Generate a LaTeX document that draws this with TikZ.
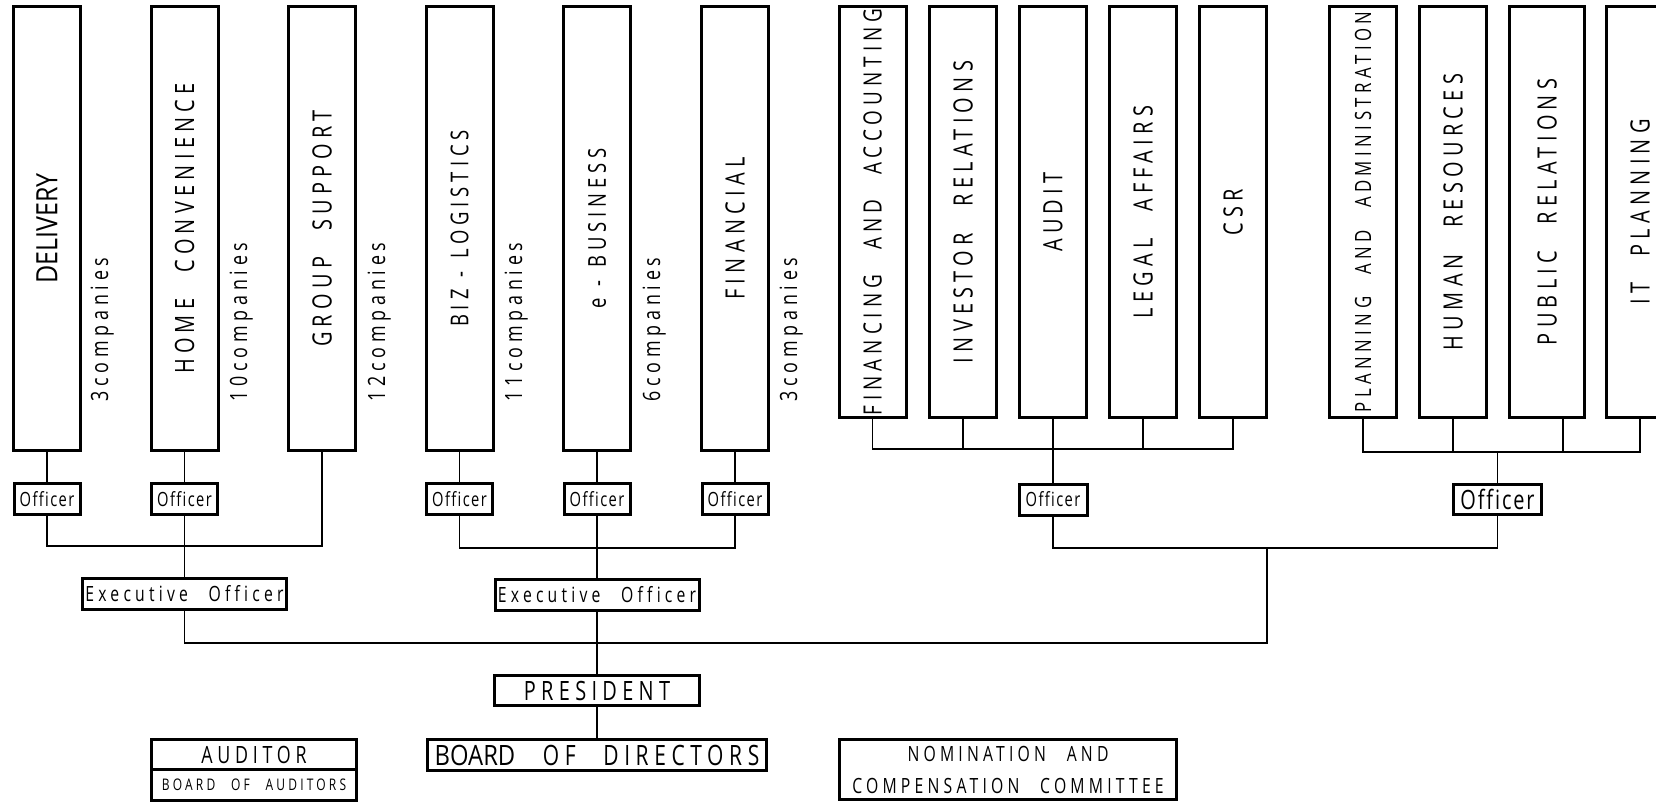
\documentclass[tikz,border=0pt]{standalone}
\usepackage{fontspec}
\newfontfamily\orgfont[FakeStretch=0.75,LetterSpace=20,WordSpace=2.5,Ligatures=NoCommon]{Open Sans}
\newfontfamily\offfont[FakeStretch=0.75,LetterSpace=7,Ligatures=NoCommon]{Open Sans}
\newfontfamily\tightfont[FakeStretch=0.85,Ligatures=NoCommon]{Open Sans}

\begin{document}
\begin{tikzpicture}[x=0.5pt, y=-0.5pt, line width=0.6pt,
    box/.style = {draw, line width=1.5pt, inner sep=0pt},
    dept/.style = {box, rotate=90, minimum width=222pt, minimum height=33.5pt, font=\orgfont\fontsize{13.3}{15}\selectfont},
    staff/.style = {box, rotate=90, minimum width=205.5pt, minimum height=33.5pt, font=\orgfont\fontsize{13.3}{15}\selectfont},
    cnt/.style = {rotate=90, anchor=base west, inner sep=0pt, font=\orgfont\fontsize{11.9}{14}\selectfont},
    off/.style = {box, minimum width=33pt, minimum height=15.5pt, font=\offfont\fontsize{9.8}{11}\selectfont},
    exec/.style = {box, minimum width=102pt, minimum height=15.5pt, font=\orgfont\fontsize{10.5}{12}\selectfont}]
    \useasboundingbox (0,0) rectangle (1656,805);

    \node[dept, font=\tightfont\fontsize{14.7}{16}\selectfont] (del) at (47,228.5) {DELIVERY};
    \node[dept] (home) at (184.5,228.5) {HOME CONVENIENCE};
    \node[dept] (grp) at (322,228.5) {GROUP SUPPORT};
    \node[dept, font=\orgfont\fontsize{12.3}{15}\selectfont] (biz) at (459.5,228.5) {BIZ\enspace-\enspace LOGISTICS};
    \node[dept, font=\orgfont\fontsize{12.3}{15}\selectfont] (ebiz) at (597,228.5) {e\enspace-\enspace BUSINESS};
    \node[dept] (fin) at (735,228.5) {FINANCIAL};
    \node[cnt] (c1) at (108,402) {3companies};
    \node[cnt] (c2) at (247,402) {10companies};
    \node[cnt] (c3) at (385,402) {12companies};
    \node[cnt] (c4) at (522,402) {11companies};
    \node[cnt] (c5) at (660,402) {6companies};
    \node[cnt] (c6) at (797,402) {3companies};

    \node[staff, font=\orgfont\fontsize{12.6}{15}\selectfont] (fa) at (872.5,212) {FINANCING AND ACCOUNTING};
    \node[staff] (ir) at (963,212) {INVESTOR RELATIONS};
    \node[staff] (aud) at (1053,212) {AUDIT};
    \node[staff] (leg) at (1143,212) {LEGAL AFFAIRS};
    \node[staff] (csr) at (1233,212) {CSR};
    \node[staff, font=\orgfont\fontsize{11.2}{13}\selectfont] (pa) at (1363,212) {PLANNING AND ADMINISTRATION};
    \node[staff] (hr) at (1453,212) {HUMAN RESOURCES};
    \node[staff, minimum height=37.5pt] (pr) at (1547,212) {PUBLIC RELATIONS};
    \node[staff] (it) at (1640,212) {IT PLANNING};

    \node[off] (odel) at (47,499) {Officer};
    \node[off] (ohome) at (184.5,499) {Officer};
    \node[off] (obiz) at (459.5,499) {Officer};
    \node[off] (oebiz) at (597,499) {Officer};
    \node[off] (ofin) at (735,499) {Officer};
    \node[off, minimum width=34pt] (oaud) at (1053,499.5) {Officer};
    \node[off, minimum width=44pt, minimum height=15pt, font=\offfont\fontsize{13.3}{15}\selectfont] (oplan) at (1497.5,499.5) {Officer};

    \node[exec] (ex1) at (184.5,594) {Executive Officer};
    \node[exec] (ex2) at (597,594.5) {Executive Officer};
    \node[exec, minimum width=102.5pt, minimum height=15pt, font=\orgfont\fontsize{13.3}{15}\selectfont] (pres) at (597,690.5) {PRESIDENT};
    \node[exec, minimum width=169.5pt, font=\orgfont\fontsize{14}{16}\selectfont] (board) at (597,755) {{\tightfont BOARD} OF DIRECTORS};
    \node[exec, minimum width=102.5pt, minimum height=15pt, font=\orgfont\fontsize{11.9}{14}\selectfont] (audr) at (254,754.5) {AUDITOR};
    \node[exec, minimum width=102.5pt, font=\orgfont\fontsize{8}{9}\selectfont] (audb) at (254,785) {BOARD OF AUDITORS};
    \node[exec, minimum width=168.5pt, minimum height=30pt, align=center, font=\orgfont\fontsize{10.5}{16}\selectfont] (nom) at (1008,769.5) {NOMINATION AND\\COMPENSATION COMMITTEE};

    \draw (del.west) -- (odel.north);
    \draw (home.west) -- (ohome.north);
    \draw (odel.south) -- ++(0,30) -| (grp.west);
    \draw (ohome.south) -- (ex1.north);
    \draw (biz.west) -- (obiz.north);
    \draw (ebiz.west) -- (oebiz.north);
    \draw (fin.west) -- (ofin.north);
    \draw (obiz.south) -- ++(0,32) -| (ofin.south);
    \draw (oebiz.south) -- (ex2.north);
    \draw (ex2.south) -- (pres.north);
    \draw (pres.south) -- (board.north);

    \draw (fa.west) -- ++(0,30) -| (csr.west);
    \draw (ir.west) -- ++(0,30);
    \draw (leg.west) -- ++(0,30);
    \draw (aud.west) -- (oaud.north);
    \draw (pa.west) -- ++(0,33) -| (it.west);
    \draw (hr.west) -- ++(0,33);
    \draw ([xshift=8pt]pr.west) -- ++(0,33);
    \draw (oplan.north) -- ++(0,-31);

    \coordinate (j) at (1267,548);
    \draw (ex1.south) -- ++(0,32) -| (j);
    \draw (oaud.south) |- (j);
    \draw (oplan.south) |- (j);
\end{tikzpicture}
\end{document}
